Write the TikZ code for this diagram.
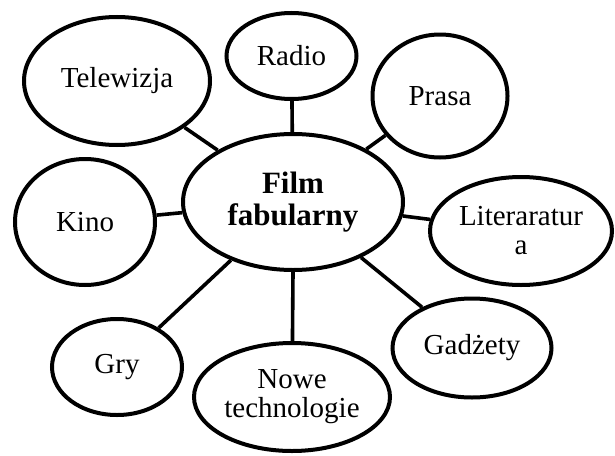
\documentclass[tikz,border=0pt]{standalone}
\usepackage{fontspec}
\setmainfont{Liberation Serif}
\usetikzlibrary{shapes.geometric}
\tikzset{
  bub/.style={draw=black, line width=4pt, ellipse, inner sep=0pt, align=center,
    font=\fontsize{29}{29}\selectfont},
  hub/.style={bub, font=\fontsize{31}{32}\selectfont\bfseries},
  link/.style={draw=black, line width=3.6pt}
}
\begin{document}
\begin{tikzpicture}[x=1pt,y=-1pt]
\useasboundingbox (0,0) rectangle (615,455);
\node[hub, minimum width=220pt, minimum height=136pt] (c) at (293,202) {Film\\fabularny};
\node[bub, minimum width=186pt, minimum height=128pt] (tv) at (117,81) {Telewizja};
\node[bub, minimum width=130pt, minimum height=86pt] (radio) at (291.5,56) {Radio};
\node[bub, minimum width=135pt, minimum height=123pt] (prasa) at (440,96) {Prasa};
\node[bub, minimum width=140pt, minimum height=126pt] (kino) at (85,222) {Kino};
\node[bub, minimum width=182pt, minimum height=108pt] (lit) at (521,231) {Literaratur\\a};
\node[bub, minimum width=130pt, minimum height=96pt] (gry) at (117,367) {Gry};
\node[bub, minimum width=196pt, minimum height=108pt] (nowe) at (292,397) {Nowe\\technologie};
\node[bub, minimum width=159pt, minimum height=99pt] (gad) at (472,348) {Gadżety};
\draw[link] (c) -- (tv);
\draw[link] (c) -- (radio);
\draw[link] (c) -- (prasa);
\draw[link] (c) -- (kino);
\draw[link] (c) -- (lit);
\draw[link] (c) -- (gry);
\draw[link] (c.south) -- (nowe);
\draw[link] (c) -- (gad);
\end{tikzpicture}
\end{document}
